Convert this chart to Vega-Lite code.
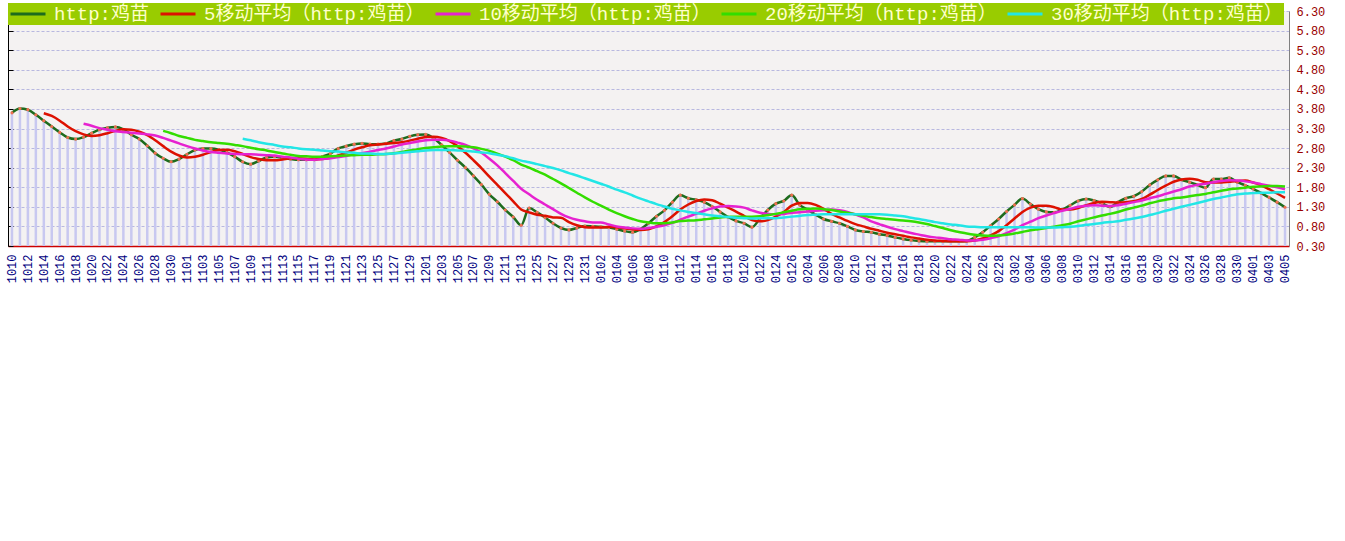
{
"$schema": "https://vega.github.io/schema/vega-lite/v6.json",
"width": 1281,
"height": 235,
"autosize": "none",
"padding": {"left": 8, "top": 11, "right": 56, "bottom": 60},
"background": "white",
"config": {
  "view": {"fill": "#f4f2f2", "stroke": null},
  "legend": {
    "orient": "none", "legendX": 0, "legendY": -8, "direction": "horizontal",
    "fillColor": "#99cc00", "padding": 1, "clipHeight": 20, "labelFont": "Liberation Mono, Noto Sans CJK SC",
    "labelFontSize": 19, "labelColor": "#ffffcc", "symbolType": "stroke", "symbolSize": 1225,
    "symbolStrokeWidth": 3, "columnPadding": 9, "labelOffset": 7, "labelLimit": 400
  }
},
"data": {"values": [
{"d":"1010","v":3.70},{"d":"1011","v":3.81},{"d":"1012","v":3.78},{"d":"1013","v":3.65},
{"d":"1014","v":3.50,"a5":3.69},{"d":"1015","v":3.35,"a5":3.62},{"d":"1016","v":3.20,"a5":3.50},{"d":"1017","v":3.07,"a5":3.35},{"d":"1018","v":3.03,"a5":3.23},
{"d":"1019","v":3.08,"a5":3.15,"a10":3.42},{"d":"1020","v":3.18,"a5":3.11,"a10":3.37},{"d":"1021","v":3.27,"a5":3.13,"a10":3.31},{"d":"1022","v":3.32,"a5":3.18,"a10":3.27},{"d":"1023","v":3.34,"a5":3.24,"a10":3.23},{"d":"1024","v":3.28,"a5":3.28,"a10":3.21},{"d":"1025","v":3.14,"a5":3.27,"a10":3.19},{"d":"1026","v":3.03,"a5":3.22,"a10":3.17},{"d":"1027","v":2.86,"a5":3.13,"a10":3.15},{"d":"1028","v":2.67,"a5":3.00,"a10":3.12},
{"d":"1029","v":2.54,"a5":2.85,"a10":3.06,"a20":3.24},{"d":"1030","v":2.45,"a5":2.71,"a10":2.99,"a20":3.18},{"d":"1031","v":2.52,"a5":2.61,"a10":2.92,"a20":3.11},{"d":"1101","v":2.64,"a5":2.56,"a10":2.85,"a20":3.06},{"d":"1102","v":2.75,"a5":2.58,"a10":2.79,"a20":3.01},{"d":"1103","v":2.79,"a5":2.63,"a10":2.74,"a20":2.98},{"d":"1104","v":2.79,"a5":2.70,"a10":2.70,"a20":2.95},{"d":"1105","v":2.76,"a5":2.75,"a10":2.68,"a20":2.93},{"d":"1106","v":2.69,"a5":2.76,"a10":2.66,"a20":2.91},{"d":"1107","v":2.58,"a5":2.72,"a10":2.65,"a20":2.88},
{"d":"1108","v":2.45,"a5":2.65,"a10":2.64,"a20":2.85,"a30":3.04},{"d":"1109","v":2.39,"a5":2.57,"a10":2.64,"a20":2.81,"a30":3.00},{"d":"1110","v":2.47,"a5":2.52,"a10":2.63,"a20":2.77,"a30":2.95},{"d":"1111","v":2.56,"a5":2.49,"a10":2.62,"a20":2.74,"a30":2.91},{"d":"1112","v":2.58,"a5":2.49,"a10":2.61,"a20":2.70,"a30":2.88},{"d":"1113","v":2.55,"a5":2.51,"a10":2.58,"a20":2.66,"a30":2.84},{"d":"1114","v":2.52,"a5":2.54,"a10":2.56,"a20":2.63,"a30":2.82},{"d":"1115","v":2.50,"a5":2.54,"a10":2.53,"a20":2.60,"a30":2.79},{"d":"1116","v":2.50,"a5":2.53,"a10":2.51,"a20":2.59,"a30":2.77},{"d":"1117","v":2.50,"a5":2.51,"a10":2.50,"a20":2.58,"a30":2.76},
{"d":"1118","v":2.58,"a5":2.52,"a10":2.52,"a20":2.58,"a30":2.74},{"d":"1119","v":2.66,"a5":2.55,"a10":2.54,"a20":2.59,"a30":2.72},{"d":"1120","v":2.79,"a5":2.61,"a10":2.57,"a20":2.60,"a30":2.71},{"d":"1121","v":2.85,"a5":2.68,"a10":2.60,"a20":2.61,"a30":2.69},{"d":"1122","v":2.90,"a5":2.76,"a10":2.64,"a20":2.62,"a30":2.68},{"d":"1123","v":2.92,"a5":2.82,"a10":2.67,"a20":2.63,"a30":2.66},{"d":"1124","v":2.90,"a5":2.87,"a10":2.71,"a20":2.63,"a30":2.66},{"d":"1125","v":2.90,"a5":2.89,"a10":2.75,"a20":2.64,"a30":2.65},{"d":"1126","v":2.92,"a5":2.91,"a10":2.79,"a20":2.65,"a30":2.65},{"d":"1127","v":2.99,"a5":2.93,"a10":2.84,"a20":2.67,"a30":2.66},
{"d":"1128","v":3.03,"a5":2.95,"a10":2.89,"a20":2.70,"a30":2.68},{"d":"1129","v":3.10,"a5":2.99,"a10":2.93,"a20":2.74,"a30":2.70},{"d":"1130","v":3.14,"a5":3.04,"a10":2.97,"a20":2.77,"a30":2.72},{"d":"1201","v":3.15,"a5":3.08,"a10":3.00,"a20":2.80,"a30":2.74},{"d":"1202","v":3.05,"a5":3.09,"a10":3.01,"a20":2.82,"a30":2.75},{"d":"1203","v":2.88,"a5":3.06,"a10":3.01,"a20":2.84,"a30":2.75},{"d":"1204","v":2.69,"a5":2.98,"a10":2.99,"a20":2.85,"a30":2.75},{"d":"1205","v":2.49,"a5":2.85,"a10":2.94,"a20":2.85,"a30":2.74},{"d":"1206","v":2.30,"a5":2.68,"a10":2.88,"a20":2.84,"a30":2.73},{"d":"1207","v":2.09,"a5":2.49,"a10":2.79,"a20":2.82,"a30":2.71},
{"d":"1208","v":1.87,"a5":2.29,"a10":2.68,"a20":2.78,"a30":2.69},{"d":"1209","v":1.62,"a5":2.07,"a10":2.53,"a20":2.73,"a30":2.67},{"d":"1210","v":1.43,"a5":1.86,"a10":2.36,"a20":2.66,"a30":2.63},{"d":"1211","v":1.22,"a5":1.65,"a10":2.16,"a20":2.58,"a30":2.59},{"d":"1212","v":1.04,"a5":1.44,"a10":1.96,"a20":2.49,"a30":2.54},{"d":"1213","v":0.83,"a5":1.23,"a10":1.76,"a20":2.38,"a30":2.48},{"d":"1224","v":1.27,"a5":1.16,"a10":1.62,"a20":2.30,"a30":2.44},{"d":"1225","v":1.16,"a5":1.10,"a10":1.48,"a20":2.21,"a30":2.39},{"d":"1226","v":1.03,"a5":1.07,"a10":1.36,"a20":2.12,"a30":2.34},{"d":"1227","v":0.88,"a5":1.03,"a10":1.24,"a20":2.01,"a30":2.29},
{"d":"1228","v":0.76,"a5":1.02,"a10":1.12,"a20":1.90,"a30":2.23},{"d":"1229","v":0.71,"a5":0.91,"a10":1.03,"a20":1.78,"a30":2.16},{"d":"1230","v":0.76,"a5":0.83,"a10":0.97,"a20":1.66,"a30":2.10},{"d":"1231","v":0.81,"a5":0.78,"a10":0.93,"a20":1.54,"a30":2.03},{"d":"0101","v":0.80,"a5":0.77,"a10":0.90,"a20":1.43,"a30":1.96},{"d":"0102","v":0.79,"a5":0.77,"a10":0.90,"a20":1.33,"a30":1.89},{"d":"0103","v":0.77,"a5":0.79,"a10":0.85,"a20":1.23,"a30":1.82},{"d":"0104","v":0.73,"a5":0.78,"a10":0.80,"a20":1.14,"a30":1.74},{"d":"0105","v":0.68,"a5":0.75,"a10":0.77,"a20":1.06,"a30":1.67},{"d":"0106","v":0.65,"a5":0.72,"a10":0.75,"a20":0.99,"a30":1.59},
{"d":"0107","v":0.73,"a5":0.71,"a10":0.74,"a20":0.93,"a30":1.51},{"d":"0108","v":0.88,"a5":0.73,"a10":0.76,"a20":0.90,"a30":1.44},{"d":"0109","v":1.06,"a5":0.80,"a10":0.79,"a20":0.88,"a30":1.37},{"d":"0110","v":1.21,"a5":0.91,"a10":0.83,"a20":0.88,"a30":1.31},{"d":"0111","v":1.42,"a5":1.06,"a10":0.89,"a20":0.90,"a30":1.25},{"d":"0112","v":1.60,"a5":1.23,"a10":0.97,"a20":0.94,"a30":1.21},{"d":"0113","v":1.52,"a5":1.36,"a10":1.05,"a20":0.95,"a30":1.17},{"d":"0114","v":1.48,"a5":1.45,"a10":1.12,"a20":0.96,"a30":1.14},{"d":"0115","v":1.42,"a5":1.49,"a10":1.20,"a20":0.98,"a30":1.11},{"d":"0116","v":1.31,"a5":1.47,"a10":1.26,"a20":1.00,"a30":1.08},
{"d":"0117","v":1.17,"a5":1.38,"a10":1.31,"a20":1.03,"a30":1.06},{"d":"0118","v":1.04,"a5":1.28,"a10":1.32,"a20":1.04,"a30":1.04},{"d":"0119","v":0.94,"a5":1.18,"a10":1.31,"a20":1.05,"a30":1.02},{"d":"0120","v":0.88,"a5":1.07,"a10":1.28,"a20":1.05,"a30":1.01},{"d":"0121","v":0.78,"a5":0.96,"a10":1.21,"a20":1.05,"a30":1.00},{"d":"0122","v":1.00,"a5":0.93,"a10":1.15,"a20":1.06,"a30":1.01},{"d":"0123","v":1.22,"a5":0.96,"a10":1.12,"a20":1.09,"a30":1.01},{"d":"0124","v":1.38,"a5":1.05,"a10":1.11,"a20":1.12,"a30":1.01},{"d":"0125","v":1.45,"a5":1.17,"a10":1.12,"a20":1.16,"a30":1.03},{"d":"0126","v":1.60,"a5":1.33,"a10":1.15,"a20":1.20,"a30":1.05},
{"d":"0203","v":1.35,"a5":1.40,"a10":1.16,"a20":1.24,"a30":1.07},{"d":"0204","v":1.23,"a5":1.40,"a10":1.18,"a20":1.25,"a30":1.09},{"d":"0205","v":1.10,"a5":1.35,"a10":1.20,"a20":1.26,"a30":1.10},{"d":"0206","v":0.99,"a5":1.25,"a10":1.21,"a20":1.24,"a30":1.11},{"d":"0207","v":0.93,"a5":1.12,"a10":1.23,"a20":1.22,"a30":1.11},{"d":"0208","v":0.88,"a5":1.03,"a10":1.21,"a20":1.18,"a30":1.11},{"d":"0209","v":0.80,"a5":0.94,"a10":1.17,"a20":1.15,"a30":1.11},{"d":"0210","v":0.71,"a5":0.86,"a10":1.10,"a20":1.11,"a30":1.11},{"d":"0211","v":0.67,"a5":0.80,"a10":1.03,"a20":1.07,"a30":1.11},{"d":"0212","v":0.65,"a5":0.74,"a10":0.93,"a20":1.04,"a30":1.11},
{"d":"0213","v":0.60,"a5":0.69,"a10":0.86,"a20":1.01,"a30":1.11},{"d":"0214","v":0.57,"a5":0.64,"a10":0.79,"a20":0.99,"a30":1.10},{"d":"0215","v":0.52,"a5":0.60,"a10":0.73,"a20":0.97,"a30":1.08},{"d":"0216","v":0.48,"a5":0.56,"a10":0.68,"a20":0.95,"a30":1.06},{"d":"0217","v":0.45,"a5":0.52,"a10":0.63,"a20":0.93,"a30":1.02},{"d":"0218","v":0.43,"a5":0.49,"a10":0.59,"a20":0.90,"a30":0.99},{"d":"0219","v":0.42,"a5":0.46,"a10":0.55,"a20":0.86,"a30":0.95},{"d":"0220","v":0.42,"a5":0.44,"a10":0.52,"a20":0.81,"a30":0.91},{"d":"0221","v":0.42,"a5":0.43,"a10":0.50,"a20":0.76,"a30":0.88},{"d":"0222","v":0.42,"a5":0.42,"a10":0.47,"a20":0.70,"a30":0.85},
{"d":"0223","v":0.42,"a5":0.42,"a10":0.46,"a20":0.66,"a30":0.83},{"d":"0224","v":0.43,"a5":0.42,"a10":0.44,"a20":0.62,"a30":0.80},{"d":"0225","v":0.52,"a5":0.44,"a10":0.44,"a20":0.59,"a30":0.79},{"d":"0226","v":0.65,"a5":0.49,"a10":0.46,"a20":0.57,"a30":0.78},{"d":"0227","v":0.82,"a5":0.57,"a10":0.50,"a20":0.56,"a30":0.78},{"d":"0228","v":0.99,"a5":0.68,"a10":0.55,"a20":0.57,"a30":0.78},{"d":"0301","v":1.18,"a5":0.83,"a10":0.63,"a20":0.59,"a30":0.78},{"d":"0302","v":1.35,"a5":1.00,"a10":0.72,"a20":0.62,"a30":0.78},{"d":"0303","v":1.51,"a5":1.17,"a10":0.83,"a20":0.66,"a30":0.78},{"d":"0304","v":1.37,"a5":1.28,"a10":0.92,"a20":0.70,"a30":0.78},
{"d":"0305","v":1.24,"a5":1.33,"a10":1.01,"a20":0.73,"a30":0.77},{"d":"0306","v":1.17,"a5":1.33,"a10":1.08,"a20":0.76,"a30":0.77},{"d":"0307","v":1.16,"a5":1.29,"a10":1.14,"a20":0.79,"a30":0.77},{"d":"0308","v":1.23,"a5":1.23,"a10":1.20,"a20":0.83,"a30":0.78},{"d":"0309","v":1.34,"a5":1.23,"a10":1.25,"a20":0.87,"a30":0.79},{"d":"0310","v":1.45,"a5":1.27,"a10":1.30,"a20":0.93,"a30":0.81},{"d":"0311","v":1.50,"a5":1.34,"a10":1.33,"a20":0.98,"a30":0.84},{"d":"0312","v":1.46,"a5":1.40,"a10":1.34,"a20":1.03,"a30":0.86},{"d":"0313","v":1.39,"a5":1.43,"a10":1.33,"a20":1.08,"a30":0.89},{"d":"0314","v":1.30,"a5":1.42,"a10":1.32,"a20":1.12,"a30":0.91},
{"d":"0315","v":1.42,"a5":1.41,"a10":1.34,"a20":1.17,"a30":0.93},{"d":"0316","v":1.52,"a5":1.42,"a10":1.38,"a20":1.23,"a30":0.97},{"d":"0317","v":1.57,"a5":1.44,"a10":1.42,"a20":1.28,"a30":1.00},{"d":"0318","v":1.69,"a5":1.50,"a10":1.46,"a20":1.33,"a30":1.04},{"d":"0319","v":1.86,"a5":1.61,"a10":1.52,"a20":1.39,"a30":1.09},{"d":"0320","v":1.99,"a5":1.73,"a10":1.57,"a20":1.44,"a30":1.14},{"d":"0321","v":2.09,"a5":1.84,"a10":1.63,"a20":1.48,"a30":1.20},{"d":"0322","v":2.09,"a5":1.94,"a10":1.69,"a20":1.52,"a30":1.25},{"d":"0323","v":1.99,"a5":2.00,"a10":1.75,"a20":1.54,"a30":1.30},{"d":"0324","v":1.93,"a5":2.02,"a10":1.82,"a20":1.57,"a30":1.35},
{"d":"0325","v":1.86,"a5":1.99,"a10":1.86,"a20":1.60,"a30":1.40},{"d":"0326","v":1.79,"a5":1.93,"a10":1.89,"a20":1.63,"a30":1.45},{"d":"0327","v":2.01,"a5":1.92,"a10":1.93,"a20":1.67,"a30":1.50},{"d":"0328","v":2.01,"a5":1.92,"a10":1.96,"a20":1.71,"a30":1.54},{"d":"0329","v":2.04,"a5":1.94,"a10":1.98,"a20":1.75,"a30":1.58},{"d":"0330","v":1.93,"a5":1.96,"a10":1.97,"a20":1.77,"a30":1.62},{"d":"0331","v":1.85,"a5":1.97,"a10":1.95,"a20":1.79,"a30":1.64},{"d":"0401","v":1.76,"a5":1.92,"a10":1.92,"a20":1.81,"a30":1.65},{"d":"0402","v":1.65,"a5":1.85,"a10":1.88,"a20":1.82,"a30":1.66},{"d":"0403","v":1.54,"a5":1.75,"a10":1.84,"a20":1.83,"a30":1.66},
{"d":"0404","v":1.42,"a5":1.64,"a10":1.80,"a20":1.83,"a30":1.67},{"d":"0405","v":1.29,"a5":1.53,"a10":1.75,"a20":1.82,"a30":1.67}
]},
"encoding": {
  "x": {"field": "d", "type": "ordinal", "sort": null,
    "scale": {"type": "band", "paddingInner": 0, "paddingOuter": 0},
    "axis": {"title": null, "labelAngle": 270, "labelFont": "Liberation Mono", "labelFontSize": 12, "labelColor": "#000080",
      "domainColor": "#cc0000", "domainWidth": 1.5, "tickColor": "#cc0000", "tickSize": -5, "labelPadding": 13, "grid": false, "labelOverlap": false,
      "values": ["1010","1012","1014","1016","1018","1020","1022","1024","1026","1028","1030","1101","1103","1105","1107","1109","1111","1113","1115","1117","1119","1121","1123","1125","1127","1129","1201","1203","1205","1207","1209","1211","1213","1225","1227","1229","1231","0102","0104","0106","0108","0110","0112","0114","0116","0118","0120","0122","0124","0126","0204","0206","0208","0210","0212","0214","0216","0218","0220","0222","0224","0226","0228","0302","0304","0306","0308","0310","0312","0314","0316","0318","0320","0322","0324","0326","0328","0330","0401","0403","0405"]}
  }
},
"layer": [
  {"mark": {"type": "bar", "width": 2.5, "color": "#c8c8f0"},
   "encoding": {
     "y": {"field": "v", "type": "quantitative", "scale": {"domain": [0.3, 6.3], "zero": false, "nice": false},
       "axis": {"orient": "right", "title": null, "values": [0.3,0.8,1.3,1.8,2.3,2.8,3.3,3.8,4.3,4.8,5.3,5.8,6.3], "format": ".2f",
         "labelFont": "Liberation Mono", "labelFontSize": 12, "labelColor": "#990000", "ticks": false, "domainColor": "#808080",
         "labelPadding": 7, "grid": true, "gridColor": "#b8b8e0", "gridDash": [3, 2], "labelOverlap": false}},
     "y2": {"datum": 0.3}}},
  {"mark": {"type": "line", "interpolate": "monotone", "strokeWidth": 2.5},
   "encoding": {
     "y": {"field": "v", "type": "quantitative",
       "axis": {"orient": "left", "title": null, "values": [0.3,0.8,1.3,1.8,2.3,2.8,3.3,3.8,4.3,4.8,5.3,5.8,6.3], "labels": false,
         "domainColor": "#000000", "tickColor": "#000000", "tickSize": -5, "grid": false}},
     "color": {"datum": "http:鸡苗", "legend": {"title": null},
       "scale": {"domain": ["http:鸡苗","5移动平均（http:鸡苗）","10移动平均（http:鸡苗）","20移动平均（http:鸡苗）","30移动平均（http:鸡苗）"],
                 "range": ["#1d6b1d","#dd1100","#e622d0","#33dd00","#22e6e6"]}}}},
  {"mark": {"type": "point", "filled": true, "size": 10, "color": "#f07050", "opacity": 1},
   "encoding": {"y": {"field": "v", "type": "quantitative", "axis": null}}},
  {"transform": [{"filter": {"field": "a5", "valid": true}}],
   "mark": {"type": "line", "interpolate": "monotone", "strokeWidth": 2.5},
   "encoding": {"y": {"field": "a5", "type": "quantitative", "axis": null},
     "color": {"datum": "5移动平均（http:鸡苗）", "legend": {"title": null}}}},
  {"transform": [{"filter": {"field": "a10", "valid": true}}],
   "mark": {"type": "line", "interpolate": "monotone", "strokeWidth": 2.5},
   "encoding": {"y": {"field": "a10", "type": "quantitative", "axis": null},
     "color": {"datum": "10移动平均（http:鸡苗）", "legend": {"title": null}}}},
  {"transform": [{"filter": {"field": "a20", "valid": true}}],
   "mark": {"type": "line", "interpolate": "monotone", "strokeWidth": 2.5},
   "encoding": {"y": {"field": "a20", "type": "quantitative", "axis": null},
     "color": {"datum": "20移动平均（http:鸡苗）", "legend": {"title": null}}}},
  {"transform": [{"filter": {"field": "a30", "valid": true}}],
   "mark": {"type": "line", "interpolate": "monotone", "strokeWidth": 2.5},
   "encoding": {"y": {"field": "a30", "type": "quantitative", "axis": null},
     "color": {"datum": "30移动平均（http:鸡苗）", "legend": {"title": null}}}}
],
"resolve": {"axis": {"y": "independent"}}
}
